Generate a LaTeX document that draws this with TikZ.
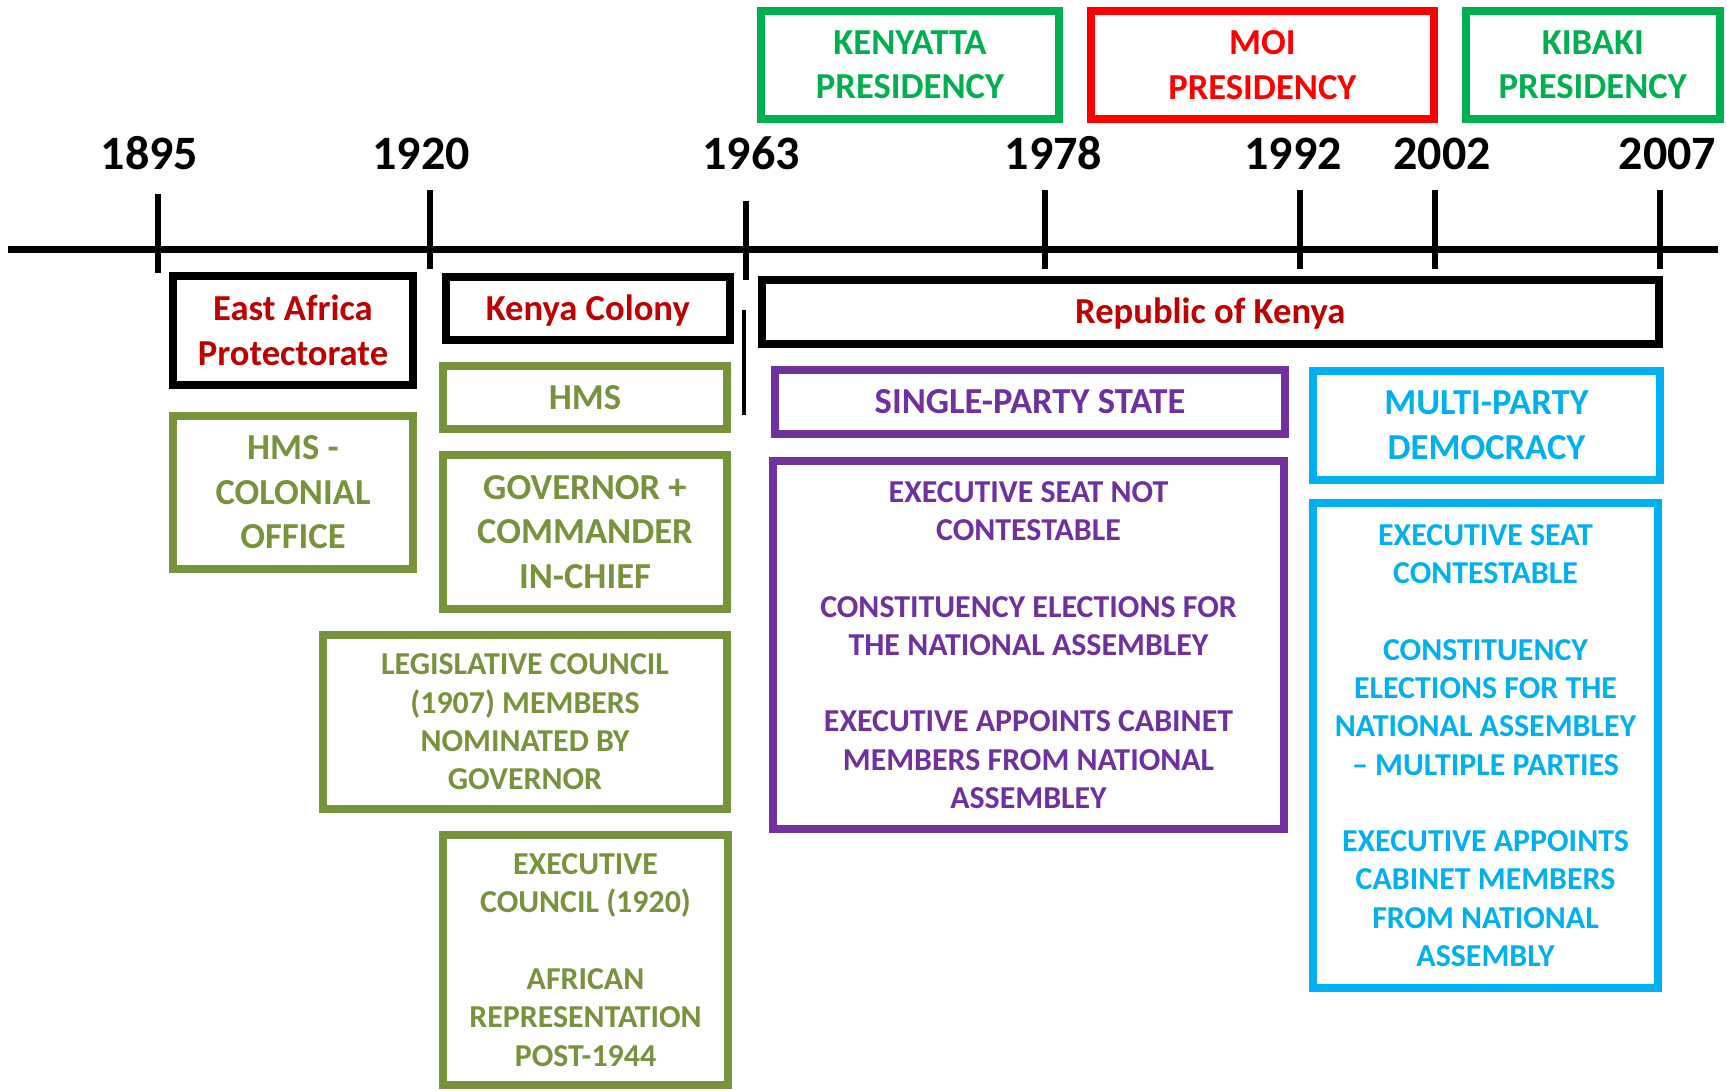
\documentclass[tikz,border=0pt]{standalone}
\usepackage{fontspec}
\setmainfont{Carlito}
\definecolor{presgreen}{HTML}{00B050}
\definecolor{presred}{HTML}{FF0000}
\definecolor{eradred}{HTML}{C00000}
\definecolor{colonyolive}{HTML}{77933C}
\definecolor{singlepurple}{HTML}{7030A0}
\definecolor{multiblue}{HTML}{00B0F0}
\begin{document}
\begin{tikzpicture}[x=1pt, y=-1pt, line cap=butt,
	every node/.style={font=\bfseries\fontsize{36.6}{44.5}\selectfont},
	box/.style={draw, line width=8pt, align=center, inner sep=0pt},
	oneline/.style={text height=24pt, text depth=0pt},
	small/.style={font=\bfseries\fontsize{31.9}{38.3}\selectfont},
	year/.style={font=\bfseries\fontsize{48}{56}\selectfont, anchor=base},
	olivebox/.style={box, draw=colonyolive, text=colonyolive},
	purplebox/.style={box, draw=singlepurple, text=singlepurple},
	bluebox/.style={box, draw=multiblue, text=multiblue}]
	\def\gap{\\[38.3pt]}
	\useasboundingbox (0,0) rectangle (1727,1090);
	% timeline
	\coordinate (tstart) at (8,249.5);
	\coordinate (tend) at (1718,249.5);
	\draw[line width=7pt] (tstart)--(tend);
	\foreach \yr/\tx/\ty/\lx in {1895/158/194/149.5, 1920/430/190/421, 1963/745.5/201/751,
		1978/1045/190/1053.5, 1992/1299.5/190/1293, 2002/1435/190/1442, 2007/1660/190/1667.5}{
		\coordinate (tick\yr) at (\tx,\ty);
		\draw[line width=6pt] (tick\yr)--++(0,79);
		\node[year] (lab\yr) at (\lx,169) {\yr};
	}
	\coordinate (splittop) at (744,310);
	\coordinate (splitbot) at (744,415);
	\draw[line width=4.5pt] (splittop)--(splitbot);
	% presidencies
	\node[box, draw=presgreen, text=presgreen, minimum width=297.5pt, minimum height=108pt] (kenyatta) at (910,65) {KENYATTA\\PRESIDENCY};
	\node[box, draw=presred, text=presred, minimum width=343.4pt, minimum height=108pt] (moi) at (1262.3,65) {MOI\\PRESIDENCY};
	\node[box, draw=presgreen, text=presgreen, minimum width=254.5pt, minimum height=108pt] (kibaki) at (1592.75,65) {KIBAKI\\PRESIDENCY};
	% eras
	\node[box, text=eradred, minimum width=240pt, minimum height=109pt] (protectorate) at (293,330.5) {East Africa\\Protectorate};
	\node[box, oneline, text=eradred, minimum width=283.6pt, minimum height=63pt] (colony) at (587.8,308.5) {Kenya Colony};
	\node[box, text=eradred, text height=22pt, text depth=0pt, minimum width=897.5pt, minimum height=64pt] (republic) at (1210.25,312) {Republic of Kenya};
	% colonial institutions
	\node[olivebox, minimum width=240pt, minimum height=153pt] (colonialoffice) at (293,492.5) {HMS -\\COLONIAL\\OFFICE};
	\node[olivebox, minimum width=284pt, minimum height=63pt] (hms) at (585,397.5) {HMS};
	\node[olivebox, minimum width=284pt, minimum height=154pt] (governor) at (585,532) {GOVERNOR +\\COMMANDER\\IN-CHIEF};
	\node[olivebox, small, minimum width=404pt, minimum height=174pt] (legco) at (525,722) {LEGISLATIVE COUNCIL\\(1907) MEMBERS\\NOMINATED BY\\GOVERNOR};
	\node[olivebox, small, minimum width=285pt, minimum height=250pt] (exco) at (585.5,960) {EXECUTIVE\\COUNCIL (1920)\gap AFRICAN\\REPRESENTATION\\POST-1944};
	% single party
	\node[purplebox, minimum width=510pt, minimum height=64pt] (single) at (1030,402) {SINGLE-PARTY STATE};
	\node[purplebox, small, minimum width=511pt, minimum height=368pt] (singlerules) at (1028.5,645) {EXECUTIVE SEAT NOT\\CONTESTABLE\gap CONSTITUENCY ELECTIONS FOR\\THE NATIONAL ASSEMBLEY\gap EXECUTIVE APPOINTS CABINET\\MEMBERS FROM NATIONAL\\ASSEMBLEY};
	% multi party
	\node[bluebox, minimum width=347pt, minimum height=109pt] (multi) at (1486.5,425.5) {MULTI-PARTY\\DEMOCRACY};
	\node[bluebox, small, minimum width=345pt, minimum height=485pt] (multirules) at (1485.5,745.5) {EXECUTIVE SEAT\\CONTESTABLE\gap CONSTITUENCY\\ELECTIONS FOR THE\\NATIONAL ASSEMBLEY\\– MULTIPLE PARTIES\gap EXECUTIVE APPOINTS\\CABINET MEMBERS\\FROM NATIONAL\\ASSEMBLY};
\end{tikzpicture}
\end{document}
